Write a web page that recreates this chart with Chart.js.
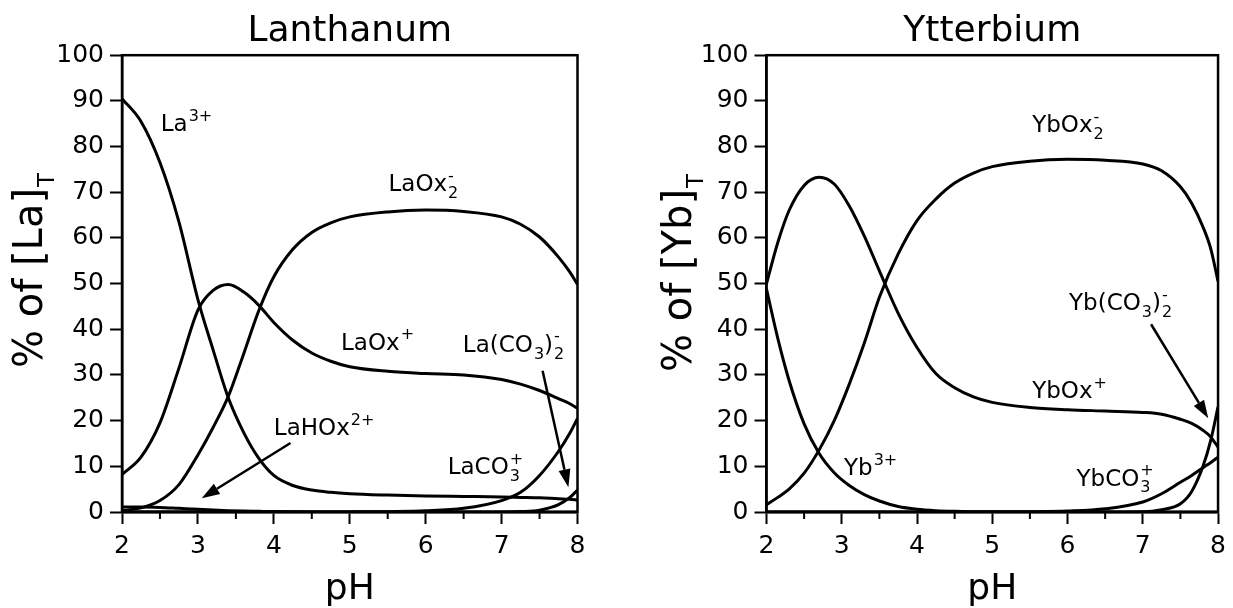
<!DOCTYPE html>
<html>
<head>
<meta charset="utf-8">
<script src="https://cdn.jsdelivr.net/npm/chart.js@4.4.1/dist/chart.umd.min.js"></script>
<style>
  html, body { margin: 0; padding: 0; background: #fff; }
  #wrap { position: relative; width: 1233px; height: 608px; }
  .panel { position: absolute; top: 0; height: 608px; }
  #left { left: 0; width: 616px; }
  #right { left: 616px; width: 617px; }
</style>
</head>
<body>
<div id="wrap">
  <div class="panel" id="left"><canvas id="laChart"></canvas></div>
  <div class="panel" id="right"><canvas id="ybChart"></canvas></div>
</div>
<script>
// pH values used for each panel
const phLa = [2, 2.25, 2.5, 2.75, 3, 3.2, 3.4, 3.6, 3.8, 4, 4.25, 4.5, 4.75, 5, 5.5, 6, 6.5, 7, 7.25, 7.5, 7.75, 7.9, 8];
const phYb = [2, 2.15, 2.3, 2.5, 2.7, 2.9, 3.1, 3.3, 3.5, 3.75, 4, 4.25, 4.5, 4.75, 5, 5.5, 6, 6.5, 7, 7.25, 7.5, 7.65, 7.8, 7.9, 8];

// Lanthanum species, % of [La]T
const la3 = [90.5, 85.5, 76.5, 63.5, 46.5, 35.5, 25, 17.5, 11.8, 8, 5.8, 4.8, 4.3, 4.0, 3.7, 3.5, 3.4, 3.3, 3.2, 3.1, 2.9, 2.8, 2.6];
const laOx = [8.2, 12, 19.5, 31.5, 44.2, 48.5, 49.8, 48.2, 45.3, 41.5, 37.6, 34.8, 33, 31.8, 30.8, 30.3, 30.0, 29, 28, 26.6, 24.8, 23.7, 22.7];
const laOx2 = [0.3, 0.9, 2.5, 6, 12.5, 18.5, 25.3, 34.5, 44, 51.5, 57.5, 61.2, 63.3, 64.6, 65.7, 66.1, 65.8, 64.6, 63.0, 60.2, 55.8, 52.5, 49.8];
const laCO3 = [0, 0, 0, 0, 0, 0, 0, 0, 0, 0, 0, 0, 0, 0.02, 0.08, 0.25, 0.8, 2.5, 4.3, 8, 13.3, 17.3, 20.5];
const laCO3x2 = [0, 0, 0, 0, 0, 0, 0, 0, 0, 0, 0, 0, 0, 0, 0, 0, 0, 0.02, 0.1, 0.4, 1.6, 3.2, 4.8];
const laHOx = [1.1, 1.1, 1.0, 0.8, 0.6, 0.45, 0.3, 0.2, 0.15, 0.1, 0.05, 0.02, 0, 0, 0, 0, 0, 0, 0, 0, 0, 0, 0];

// Ytterbium species, % of [Yb]T
const yb3 = [48.8, 38, 28.8, 19.3, 12.8, 8.6, 5.8, 3.8, 2.4, 1.2, 0.6, 0.3, 0.15, 0.08, 0.05, 0.02, 0, 0, 0, 0, 0, 0, 0, 0, 0];
const ybOx = [50, 59, 66, 71.5, 73.3, 71.8, 67, 60.4, 52.8, 43.5, 36, 30.3, 27.2, 25.2, 24, 22.9, 22.4, 22.1, 21.8, 21.4, 20.3, 19.4, 17.9, 16.5, 14.2];
const ybOx2 = [1.6, 3.2, 5.0, 8.5, 13.6, 20, 28, 37, 47, 56.5, 63.8, 68.5, 72, 74.2, 75.6, 76.8, 77.2, 77.0, 76.2, 74.7, 71.2, 67.6, 62.4, 57.8, 50.5];
const ybCO3 = [0, 0, 0, 0, 0, 0, 0, 0, 0, 0, 0, 0, 0, 0, 0, 0.05, 0.2, 0.7, 2.2, 4.0, 6.5, 8.0, 9.7, 10.8, 12];
const ybCO3x2 = [0, 0, 0, 0, 0, 0, 0, 0, 0, 0, 0, 0, 0, 0, 0, 0, 0, 0, 0.05, 0.5, 1.8, 4.5, 10, 15.5, 23];

const xTicks = [2, 3, 4, 5, 6, 7, 8];
const xMinorTicks = [2.5, 3.5, 4.5, 5.5, 6.5, 7.5];

// species names ('^' = superscript, '_' = subscript, '_a^b' = stacked)
const laNotes = [
    { x: 2.51, y: 83.4, parts: ['La', '^3+'] },
    { x: 5.51, y: 70.3, parts: ['LaOx', '_2^-'] },
    { x: 4.885, y: 35.5, parts: ['LaOx', '^+'] },
    { x: 6.49, y: 35.1, parts: ['La(CO', '_3', ')', '_2^-'] },
    { x: 4.0, y: 16.8, parts: ['LaHOx', '^2+'] },
    { x: 6.29, y: 8.3, parts: ['LaCO', '_3^+'] }
];
const laArrows = [
    { from: [4.22, 15.1], to: [3.05, 3.0] },
    { from: [7.54, 30.9], to: [7.88, 5.4] }
];
const ybNotes = [
    { x: 5.53, y: 83.2, parts: ['YbOx', '_2^-'] },
    { x: 6.02, y: 44.2, parts: ['Yb(CO', '_3', ')', '_2^-'] },
    { x: 5.53, y: 24.9, parts: ['YbOx', '^+'] },
    { x: 3.03, y: 8.1, parts: ['Yb', '^3+'] },
    { x: 6.12, y: 5.8, parts: ['YbCO', '_3^+'] }
];
const ybArrows = [
    { from: [7.11, 41.1], to: [7.87, 20.5] }
];

const FONT = '"DejaVu Sans", sans-serif';
Chart.defaults.font.family = FONT;
Chart.defaults.color = '#000';

// текст с индексами
function drawRich(ctx, x, y, parts, size) {
    const big = size + 'px ' + FONT;
    const small = Math.round(size * 0.7) + 'px ' + FONT;
    ctx.textAlign = 'left';
    ctx.textBaseline = 'alphabetic';
    let cx = x;
    parts.forEach(p => {
        if (p[0] === '^' || p[0] === '_') {
            let sub = '', sup = '';
            if (p[0] === '_') {
                const i = p.indexOf('^');
                sub = i < 0 ? p.slice(1) : p.slice(1, i);
                sup = i < 0 ? '' : p.slice(i + 1);
            } else {
                sup = p.slice(1);
            }
            ctx.font = small;
            let w = 0;
            if (sup) { ctx.fillText(sup, cx + 1, y - size * 0.45); w = Math.max(w, ctx.measureText(sup).width); }
            if (sub) { ctx.fillText(sub, cx + 1, y + size * 0.3); w = Math.max(w, ctx.measureText(sub).width); }
            cx += w + 1;
        } else {
            ctx.font = big;
            ctx.fillText(p, cx, y);
            cx += ctx.measureText(p).width;
        }
    });
}

function drawArrow(ctx, x1, y1, x2, y2) {
    const a = Math.atan2(y2 - y1, x2 - x1);
    const hl = 18, hw = 6;
    const bx = x2 - hl * Math.cos(a), by = y2 - hl * Math.sin(a);
    ctx.lineWidth = 2.5;
    ctx.beginPath();
    ctx.moveTo(x1, y1);
    ctx.lineTo(bx, by);
    ctx.stroke();
    ctx.beginPath();
    ctx.moveTo(x2, y2);
    ctx.lineTo(bx + hw * Math.sin(a), by - hw * Math.cos(a));
    ctx.lineTo(bx - hw * Math.sin(a), by + hw * Math.cos(a));
    ctx.closePath();
    ctx.fill();
}

// рамка, мелкие деления, подписи и стрелки
const speciesPlugin = {
    id: 'species',
    afterDatasetsDraw(chart, args, opts) {
        const ctx = chart.ctx;
        const a = chart.chartArea;
        const xs = chart.scales.x, ys = chart.scales.y;
        ctx.save();
        ctx.strokeStyle = '#000';
        ctx.fillStyle = '#000';
        ctx.lineWidth = 2.5;
        ctx.strokeRect(a.left, a.top, a.right - a.left, a.bottom - a.top);

        ctx.lineWidth = 2;
        xMinorTicks.forEach(v => {
            const px = xs.getPixelForValue(v);
            ctx.beginPath();
            ctx.moveTo(px, a.bottom);
            ctx.lineTo(px, a.bottom + 7);
            ctx.stroke();
        });

        opts.notes.forEach(n => {
            drawRich(ctx, xs.getPixelForValue(n.x), ys.getPixelForValue(n.y), n.parts, 23);
        });
        opts.arrows.forEach(r => {
            drawArrow(ctx, xs.getPixelForValue(r.from[0]), ys.getPixelForValue(r.from[1]),
                xs.getPixelForValue(r.to[0]), ys.getPixelForValue(r.to[1]));
        });

        // подпись оси Y с индексом T
        const t = opts.yTitle;
        ctx.translate(t.x, t.y);
        ctx.rotate(-Math.PI / 2);
        ctx.font = '40px ' + FONT;
        ctx.textAlign = 'left';
        ctx.textBaseline = 'alphabetic';
        ctx.fillText(t.main, 0, 0);
        const w = ctx.measureText(t.main).width;
        ctx.font = '23px ' + FONT;
        ctx.fillText(t.sub, w + 1, 12);
        ctx.restore();
    }
};

function makeChart(id, title, ph, series, notes, arrows, yTitle, plotLeft, padRight) {
    const axisGrid = { drawOnChartArea: false, tickLength: 12, tickWidth: 2, tickColor: '#000', color: '#000' };
    const axisBorder = { display: true, color: '#000', width: 2.5 };
    new Chart(document.getElementById(id).getContext('2d'), {
        type: 'line',
        data: {
            datasets: series.map(vals => ({
                data: vals.map((v, i) => ({ x: ph[i], y: v })),
                borderColor: '#000',
                borderWidth: 3,
                pointRadius: 0,
                fill: false,
                cubicInterpolationMode: 'monotone'
            }))
        },
        options: {
            responsive: true,
            maintainAspectRatio: false,
            animation: false,
            layout: { padding: { left: 0, right: padRight, top: 0, bottom: 0 } },
            plugins: {
                legend: { display: false },
                tooltip: { enabled: false },
                title: {
                    display: true,
                    text: title,
                    fullSize: false,
                    color: '#000',
                    font: { size: 36, weight: 'normal', lineHeight: 1.2 },
                    padding: { top: 10, bottom: 2 }
                },
                species: { notes: notes, arrows: arrows, yTitle: yTitle }
            },
            scales: {
                x: {
                    type: 'linear',
                    min: 2,
                    max: 8,
                    afterFit: s => { s.height = 96; },
                    afterBuildTicks: s => { s.ticks = xTicks.map(v => ({ value: v })); },
                    ticks: { font: { size: 25 }, color: '#000', padding: 7 },
                    grid: axisGrid,
                    border: axisBorder,
                    title: { display: true, text: 'pH', color: '#000', font: { size: 36, lineHeight: 1 }, padding: 0 }
                },
                y: {
                    min: 0,
                    max: 100,
                    afterFit: s => { s.width = plotLeft; },
                    ticks: { stepSize: 10, font: { size: 25 }, color: '#000', padding: 6 },
                    grid: axisGrid,
                    border: axisBorder
                }
            }
        },
        plugins: [speciesPlugin]
    });
}

document.addEventListener('DOMContentLoaded', () => {
    makeChart('laChart', 'Lanthanum', phLa, [la3, laOx, laOx2, laCO3, laCO3x2, laHOx],
        laNotes, laArrows, { main: '% of [La]', sub: 'T', x: 42, y: 368 }, 122, 38.5);
    makeChart('ybChart', 'Ytterbium', phYb, [yb3, ybOx, ybOx2, ybCO3, ybCO3x2],
        ybNotes, ybArrows, { main: '% of [Yb]', sub: 'T', x: 75, y: 372 }, 150.5, 10.5);
});
</script>
</body>
</html>
